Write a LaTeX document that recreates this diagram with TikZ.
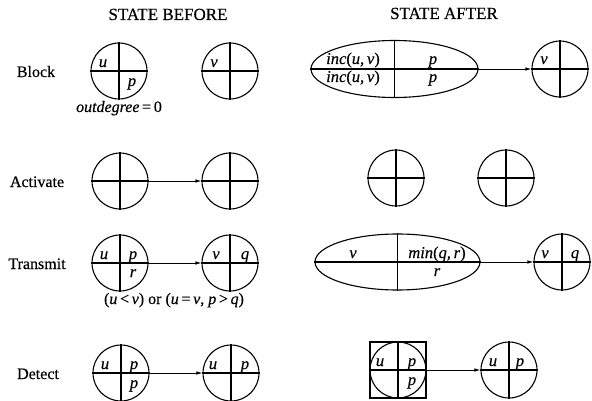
\documentclass[tikz,border=0pt]{standalone}
\usepackage{fontspec}
\setmainfont{Liberation Serif}[FakeBold=0.4]
\usetikzlibrary{calc,shapes.geometric,arrows.meta}
\newcommand\qcirc[3]{\node[qc] (#1) at (#2,#3) {};
  \draw[qline] (#1.north) -- (#1.south) (#1.west) -- (#1.east);}
\newcommand\qlab[4]{\node[lab] at ($(#1)+(#2,#3)$) {\textit{#4}};}
\begin{document}
\begin{tikzpicture}[x=1pt,y=-1pt,
  every node/.style={font=\fontsize{16}{18}\selectfont},
  qc/.style={circle,draw,line width=1.1pt,minimum size=56pt,inner sep=0pt},
  ell/.style={ellipse,draw,line width=1.1pt,inner sep=0pt},
  qline/.style={line width=1.1pt},
  lab/.style={anchor=base,inner sep=0pt,font=\fontsize{16.5}{18}\selectfont},
  rowlab/.style={anchor=base,inner sep=0pt},
  head/.style={anchor=base,inner sep=0pt,font=\fontsize{17}{19}\selectfont},
  arr/.style={line width=0.8pt,-{Latex[length=6pt,width=3.5pt]}}]
\useasboundingbox (0,0) rectangle (592,401);
% headers
\node[head] (hb) at (168,20) {STATE BEFORE};
\node[head] (ha) at (444,19) {STATE AFTER};
% row labels
\node[rowlab] (lb) at (36,77) {Block};
\node[rowlab] (la) at (37,187) {Activate};
\node[rowlab] (lt) at (37,269) {Transmit};
\node[rowlab] (ld) at (38,379) {Detect};
% ---------- Block ----------
\qcirc{b1}{119}{71}
\qlab{b1}{-16}{-4}{u}
\qlab{b1}{13}{15}{p}
\qcirc{b2}{230}{71}
\qlab{b2}{-16}{-4}{v}
\node[rowlab] (od) at (119,112) {\textit{outdegree}\,=\,0};
\node[ell,minimum width=167pt,minimum height=57pt] (E1) at (394.5,69) {};
\draw[qline] (E1.north) -- (E1.south) (E1.west) -- (E1.east);
\node[lab] at (353,64) {\textit{inc}(\textit{u},\,\textit{v})};
\node[lab] at (353,82) {\textit{inc}(\textit{u},\,\textit{v})};
\node[lab] at (433,64) {\textit{p}};
\node[lab] at (433,82) {\textit{p}};
\qcirc{a1}{560}{69}
\qlab{a1}{-16}{-5}{v}
\draw[arr] (E1.east) -- (a1.west);
% ---------- Activate ----------
\qcirc{c1}{120}{181}
\qcirc{c2}{230}{181}
\draw[arr] (c1.east) -- (c2.west);
\qcirc{d1}{396}{178}
\qcirc{d2}{506}{178}
% ---------- Transmit ----------
\qcirc{t1}{120}{263}
\qlab{t1}{-16}{-4}{u}
\qlab{t1}{13}{-4}{p}
\qlab{t1}{13}{14}{r}
\qcirc{t2}{230}{263}
\qlab{t2}{-14}{-4}{v}
\qlab{t2}{15}{-4}{q}
\draw[arr] (t1.east) -- (t2.west);
\node[rowlab] (cond) at (174,304) {(\textit{u}\,<\,\textit{v}) or (\textit{u}\,=\,\textit{v}, \textit{p}\,>\,\textit{q})};
\node[ell,minimum width=165pt,minimum height=56pt] (E2) at (397.5,262) {};
\draw[qline] (E2.north) -- (E2.south) (E2.west) -- (E2.east);
\node[lab] at (353,258) {\textit{v}};
\node[lab] at (437,258) {\textit{min}(\textit{q},\,\textit{r})};
\node[lab] at (437,276) {\textit{r}};
\qcirc{t3}{562}{262}
\qlab{t3}{-17}{-4}{v}
\qlab{t3}{13}{-4}{q}
\draw[arr] (E2.east) -- (t3.west);
% ---------- Detect ----------
\qcirc{e1}{121}{373}
\qlab{e1}{-16}{-4}{u}
\qlab{e1}{13}{-4}{p}
\qlab{e1}{13}{15}{p}
\qcirc{e2}{231}{373}
\qlab{e2}{-18}{-4}{u}
\qlab{e2}{14}{-4}{p}
\draw[arr] (e1.east) -- (e2.west);
\node[draw,line width=1.1pt,minimum size=56pt,inner sep=0pt] (sq) at (398,370) {};
\qcirc{f1}{398}{370}
\qlab{f1}{-18}{-4}{u}
\qlab{f1}{14}{-4}{p}
\qlab{f1}{14}{15}{p}
\qcirc{f2}{509}{370}
\qlab{f2}{-16}{-4}{u}
\qlab{f2}{11}{-4}{p}
\draw[arr] (f1.east) -- (f2.west);
\end{tikzpicture}
\end{document}
